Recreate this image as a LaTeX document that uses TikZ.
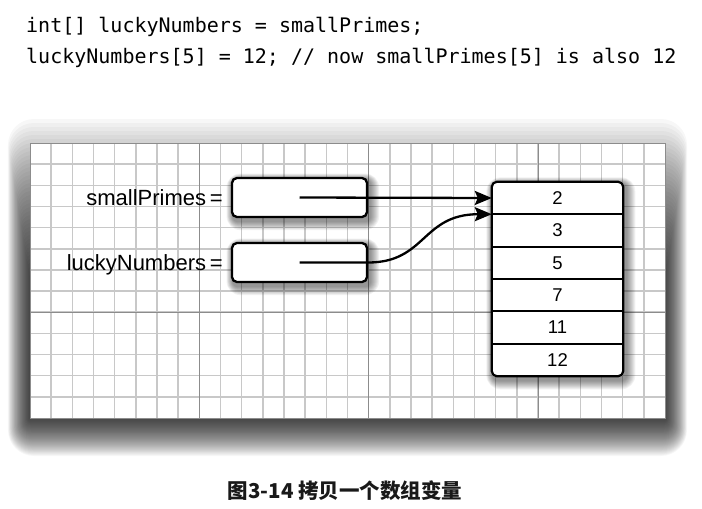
\documentclass[tikz,border=0pt]{standalone}
\usepackage{fontspec}
\newfontfamily\codefont{DejaVu Sans Mono}
\newfontfamily\labelfont{Liberation Sans}
\newfontfamily\capfont{Noto Sans CJK SC}
\usetikzlibrary{positioning,calc,fit,backgrounds,arrows.meta}
\definecolor{gridminor}{RGB}{200,200,200}
\definecolor{gridmajor}{RGB}{140,140,140}
\begin{document}
\begin{tikzpicture}[x=1pt,y=-1pt,
  code/.style={font=\codefont\fontsize{20}{24}\selectfont, inner sep=0pt, anchor=base west},
  varbox/.style={draw, fill=white, line width=2.3pt, rounded corners=5pt, minimum width=135pt, minimum height=39pt},
  varname/.style={font=\labelfont\fontsize{22}{26}\selectfont, inner sep=0pt, anchor=base east},
  cell/.style={font=\labelfont\fontsize{18.5}{22}\selectfont, fill=white, inner sep=0pt, minimum width=131pt, minimum height=32pt},
  frame/.style={draw, line width=2.2pt, rounded corners=5pt, inner sep=0pt},
  sep/.style={line width=2pt},
  ptr/.style={line width=2.3pt, -{Stealth[length=17pt,width=14pt,inset=3pt]}},
  minor/.style={gridminor, line width=1.6pt},
  major/.style={gridmajor, line width=0.9pt}]
\useasboundingbox (0,0) rectangle (702,509);
% code
\node[code] (line1) at (26,32) {int[] luckyNumbers = smallPrimes;};
\node[code] (line2) at (26,63) {luckyNumbers[5] = 12; // now smallPrimes[5] is also 12};
% variables
\node[varbox] (sp) at (299.5,197.5) {};
\node[varbox] (ln) at (299.5,262.5) {};
\node[varname] (spname) at ($(sp.west)+(-8,8)$) {smallPrimes\,=};
\node[varname] (lnname) at ($(ln.west)+(-8,8)$) {luckyNumbers\,=};
% array
\node[cell] (c1) at (557.5,198) {2};
\node[cell, below=0pt of c1] (c2) {3};
\node[cell, below=0pt of c2] (c3) {5};
\node[cell, below=0pt of c3] (c4) {7};
\node[cell, below=0pt of c4] (c5) {11};
\node[cell, below=0pt of c5] (c6) {12};
\node[frame, fit=(c1)(c6)] (arr) {};
\foreach \a in {c1,c2,c3,c4,c5}
  \draw[sep] (\a.south west) -- (\a.south east);
% references
\draw[ptr] (sp.center) -- (c1.west);
\draw[ptr] (ln.center) -- (ln.east) .. controls +(58,0) and +(-70,0) .. (c1.south west);
% caption
\node[font=\capfont\bfseries\fontsize{20.5}{24}\selectfont, text=black!90] (cap) at (345,491) {图3-14 拷贝一个数组变量};
\begin{scope}[on background layer]
  % sheet shadow
  \foreach \i in {1,...,40}
    \fill[black, opacity=0.031, rounded corners=0.65*\i] ({30-0.55*\i},{279-4*\i}) rectangle ({665+0.55*\i},{418+0.95*\i});
  % grid
  \fill[white] (30,143) rectangle (665,418);
  \foreach \i in {1,...,29}
    \draw[minor] ({30+\i*21.1667},143) -- ++(0,275);
  \foreach \j in {1,...,12}
    \draw[minor] (30,{143+\j*21.1538}) -- ++(635,0);
  \foreach \i in {8,16,24}
    \draw[major] ({30+\i*21.1667},143) -- ++(0,275);
  \draw[major] (30,{143+8*21.1538}) -- ++(635,0);
  \draw[major] (30,143) rectangle (665,418);
  % box shadows
  \foreach \n in {sp,ln,arr}
    \foreach \i in {1,...,9}
      \fill[black, opacity=0.055, rounded corners=5+\i] ($(\n.north west)+({2-0.7*\i},{3-0.7*\i})$) rectangle ($(\n.south east)+({2+\i},{3+\i})$);
\end{scope}
\end{tikzpicture}
\end{document}
